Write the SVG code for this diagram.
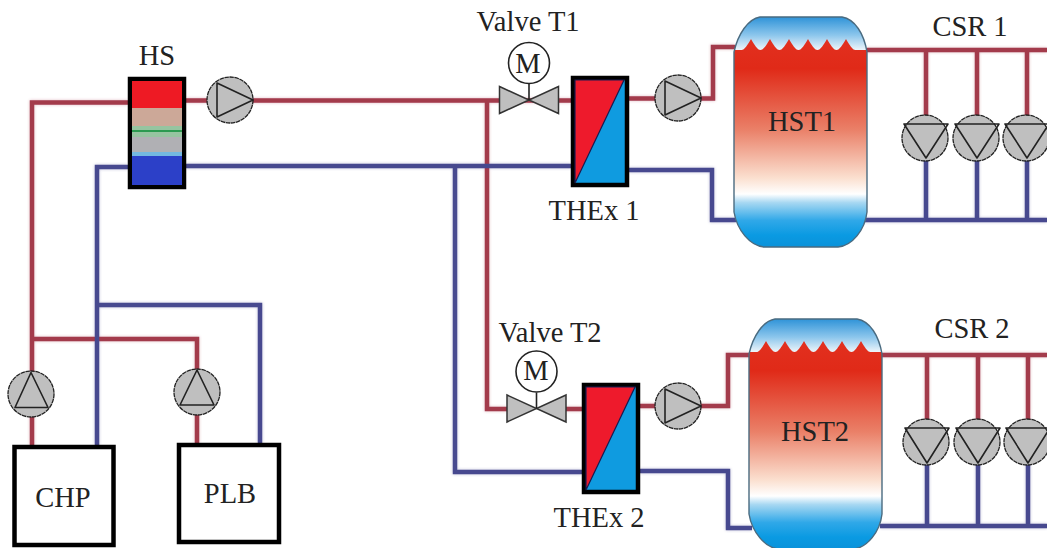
<svg xmlns="http://www.w3.org/2000/svg" xmlns:xlink="http://www.w3.org/1999/xlink" width="1047" height="548" viewBox="0 0 1047 548">
<style>
text{font-family:"Liberation Serif","Times New Roman",serif;font-size:28.500px;fill:#222;text-anchor:middle}
.hot,.cold{fill:none;stroke-width:4.5;stroke-linejoin:miter}
.hot{stroke:#a33a4c}.cold{stroke:#474a8f}
.pump{fill:#bfbfbf;stroke:#222;stroke-width:1.3;stroke-dasharray:4.500 .6}
.tri{fill:none;stroke:#222;stroke-width:1.6;stroke-linejoin:round}
.valve{fill:#bfbfbf;stroke:#333;stroke-width:1.5}
.motor{fill:#fff;stroke:#222;stroke-width:1.6}
.box{fill:#fff;stroke:#000;stroke-width:4.5}
.outline{fill:none;stroke:#4a6b80;stroke-width:1.4}
</style>
<defs>
<filter id="glow" filterUnits="userSpaceOnUse" x="0" y="0" width="1047" height="548"><feGaussianBlur in="SourceGraphic" stdDeviation="1.600" result="b"/><feComponentTransfer in="b" result="f"><feFuncA type="linear" slope=".35"/></feComponentTransfer><feMerge><feMergeNode in="f"/><feMergeNode in="SourceGraphic"/></feMerge></filter>
<linearGradient id="top1" gradientUnits="userSpaceOnUse" x1="0" y1="17" x2="0" y2="50"><stop offset="0" stop-color="#2f93d8"/><stop offset=".55" stop-color="#8cc6ec"/><stop offset="1" stop-color="#eef5fa"/></linearGradient>
<linearGradient id="body" x1="0" y1="0" x2="0" y2="1">
<stop offset="0" stop-color="#e2301f"/><stop offset=".14" stop-color="#e02a18"/><stop offset=".43" stop-color="#ea8068"/><stop offset=".66" stop-color="#fbe0d0"/><stop offset=".735" stop-color="#ffffff"/><stop offset=".775" stop-color="#a8d8f2"/><stop offset=".86" stop-color="#30a8e8"/><stop offset=".93" stop-color="#0a9ae2"/><stop offset="1" stop-color="#0a90d8"/></linearGradient>
<path id="tank" d="M734 52C738 34 748 19 760 17H842C855 19 864 34 867 52V212C865 230 852 246 838 247H764C750 246 737 230 734 212Z"/>
<clipPath id="tc"><use xlink:href="#tank"/></clipPath>
<circle id="pump" class="pump" r="23"/>
<g id="valve"><path class="valve" d="M-29.500 -13.500L0 0L-29.500 13.500ZM29.500 -13.500L0 0L29.500 13.500Z"/><path class="tri" d="M0 0V-16"/><circle class="motor" cy="-37" r="20.500"/></g>
<g id="hst">
<use xlink:href="#tank" fill="url(#top1)"/>
<g clip-path="url(#tc)"><path fill="url(#body)" d="M730 50H741.500c3 0 6 -5 9.500 -11c3.500 6 6.500 11 9.500 11s6 -5 9.500 -11c3.500 6 6.500 11 9.500 11s6 -5 9.500 -11c3.500 6 6.500 11 9.500 11s6 -5 9.500 -11c3.500 6 6.500 11 9.500 11s6 -5 9.500 -11c3.500 6 6.500 11 9.500 11s6 -5 9.500 -11c3.500 6 6.500 11 9.500 11H872V250H730Z"/></g>
<use xlink:href="#tank" class="outline"/>
</g>
</defs>

<g id="connectors" filter="url(#glow)">
<path class="hot" d="M128 102.500H32V445M32 339H197V443"/>
<path class="hot" d="M186 100.500H571M487 100V409H507M566 409H582"/>
<path class="hot" d="M629 98.500H713V47H735M640 406H728V355H750"/>
<path class="hot" d="M867 50H1047M926 50V116M977 50V116M1027 50V116"/>
<path class="hot" d="M882 355H1047M927 355V420M978 355V420M1028 355V420"/>
<path class="cold" d="M128 167H97V445M97 305H260V443"/>
<path class="cold" d="M186 166H571M455 166V472H582"/>
<path class="cold" d="M629 170H712V220H736M640 471H728V528H752"/>
<path class="cold" d="M862 220H1047M926 159V220M977 159V220M1027 159V220"/>
<path class="cold" d="M880 526H1047M927 463V526M978 463V526M1028 463V526"/>
</g>

<g id="HS">
<rect x="130" y="79" width="54" height="108" fill="#c0a8a0" stroke="#000" stroke-width="4.500"/>
<rect x="132" y="81" width="50" height="27" fill="#ee1a24"/>
<rect x="132" y="108" width="50" height="18" fill="#cca898"/>
<rect x="132" y="126" width="50" height="11" fill="#96c4a0"/>
<rect x="132" y="137" width="50" height="15" fill="#b0b0b4"/>
<rect x="132" y="152" width="50" height="4" fill="#74b8e0"/>
<rect x="132" y="156" width="50" height="29" fill="#2c40c8"/>
<rect x="132" y="130" width="50" height="2" fill="#2c9a50"/>
<text x="157" y="65">HS</text>
</g>

<g id="pump-hs"><use xlink:href="#pump" x="230" y="100"/><path class="tri" d="M217 83L253 100L217 117Z"/></g>

<g id="valve-t1"><use xlink:href="#valve" x="529" y="100"/><text x="528" y="31">Valve T1</text><text x="528" y="73">M</text></g>
<g id="valve-t2"><use xlink:href="#valve" x="536.500" y="408.500"/><text x="550" y="342">Valve T2</text><text x="536" y="380">M</text></g>

<g id="thex-1">
<rect x="573" y="78" width="54" height="107" fill="#0f9be0" stroke="#000" stroke-width="4.500"/>
<path d="M575 80H624L575 183Z" fill="#ee1a2c" stroke="#1a1a50" stroke-width="1.200"/>
<text x="594" y="220">THEx 1</text>
</g>
<g id="thex-2">
<rect x="584" y="385" width="54" height="107" fill="#0f9be0" stroke="#000" stroke-width="4.500"/>
<path d="M586 387H635L586 490Z" fill="#ee1a2c" stroke="#1a1a50" stroke-width="1.200"/>
<text x="599" y="527">THEx 2</text>
</g>

<g id="pump-thex1"><use xlink:href="#pump" x="678" y="98"/><path class="tri" d="M665 81L701 98L665 115Z"/></g>
<g id="pump-thex2"><use xlink:href="#pump" x="678" y="406"/><path class="tri" d="M665 389L701 406L665 423Z"/></g>

<g id="HST1"><use xlink:href="#hst"/><text x="802" y="131">HST1</text></g>
<g id="HST2"><use xlink:href="#hst" x="15" y="302"/><text x="815" y="441">HST2</text></g>

<g id="CSR1">
<use xlink:href="#pump" x="925" y="138"/><path class="tri" d="M904 124H948L926 158Z"/>
<use xlink:href="#pump" x="976" y="138"/><path class="tri" d="M955 124H999L977 158Z"/>
<use xlink:href="#pump" x="1026" y="138"/><path class="tri" d="M1005 124H1049L1027 158Z"/>
<text x="970" y="36">CSR 1</text>
</g>
<g id="CSR2">
<use xlink:href="#pump" x="926" y="442"/><path class="tri" d="M905 428H949L927 463Z"/>
<use xlink:href="#pump" x="977" y="442"/><path class="tri" d="M956 428H1000L978 463Z"/>
<use xlink:href="#pump" x="1027" y="442"/><path class="tri" d="M1006 428H1050L1028 463Z"/>
<text x="972" y="338">CSR 2</text>
</g>

<g id="pump-chp"><use xlink:href="#pump" x="31" y="394"/><path class="tri" d="M15 407.500H48L31 372.500Z"/></g>
<g id="pump-plb"><use xlink:href="#pump" x="197" y="392"/><path class="tri" d="M180 405H214L197 370Z"/></g>

<g id="CHP"><rect class="box" x="14.500" y="447" width="99" height="98"/><text x="63" y="507">CHP</text></g>
<g id="PLB"><rect class="box" x="179" y="445" width="100" height="97"/><text x="230" y="503">PLB</text></g>
</svg>
